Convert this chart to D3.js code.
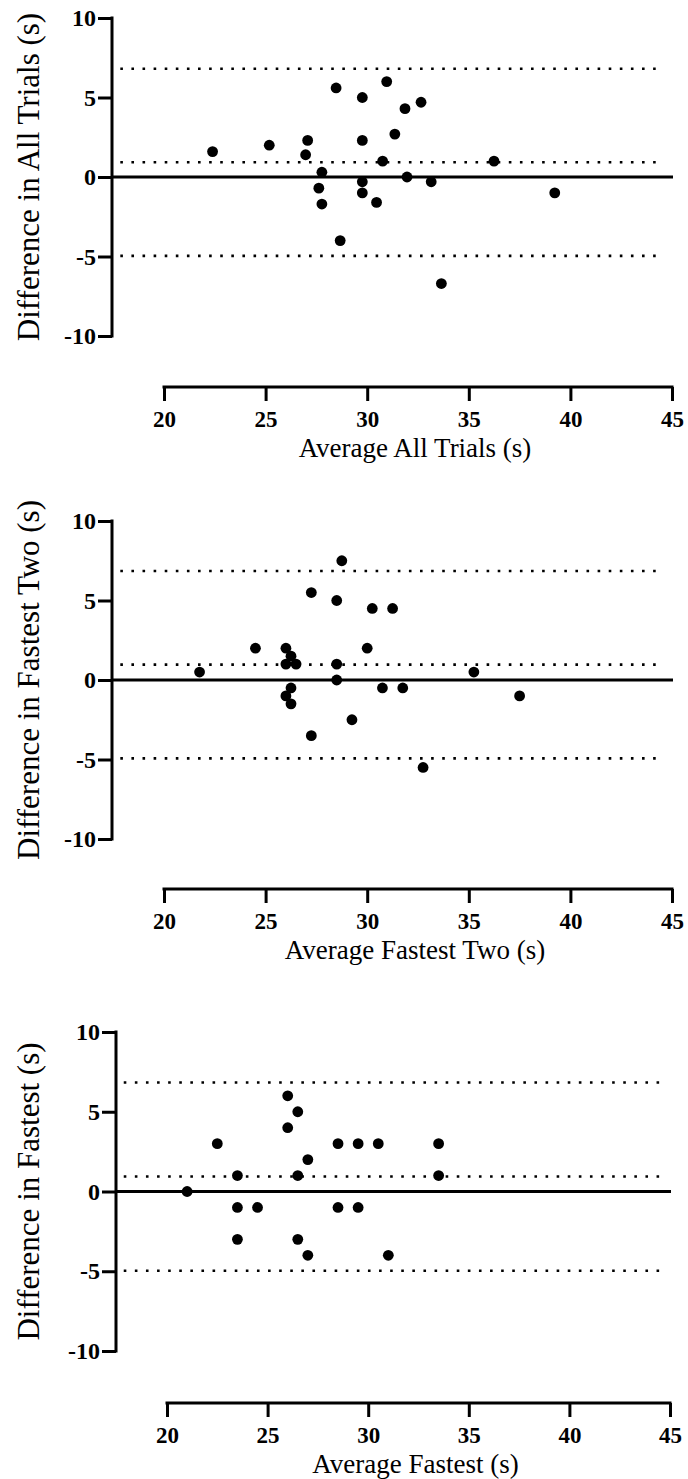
<!DOCTYPE html>
<html>
<head>
<meta charset="utf-8">
<script src="https://cdn.jsdelivr.net/npm/d3@7"></script>
<style>
  html, body { margin: 0; padding: 0; background: #fff; }
  svg { display: block; }
</style>
</head>
<body>
<svg id="chart" width="688" height="1479"></svg>
<script>
// ---------------- DATA ----------------
const xTicks = [20, 25, 30, 35, 40, 45];
const yTicks = [-10, -5, 0, 5, 10];

// Panel 1: All trials
const allTrialsAvg  = [22.39, 25.18, 27.07, 26.97, 28.47, 27.77, 27.62, 27.77, 28.67, 29.76, 29.76, 29.76, 29.76, 30.46, 30.96, 30.76, 31.36, 31.86, 32.65, 31.96, 33.15, 33.65, 36.24, 39.23];
const allTrialsDiff = [1.6, 2.0, 2.3, 1.4, 5.6, 0.3, -0.7, -1.7, -4.0, 5.0, 2.3, -0.3, -1.0, -1.6, 6.0, 1.0, 2.7, 4.3, 4.7, 0.0, -0.3, -6.7, 1.0, -1.0];
const allTrialsLimits = [-4.96, 0.93, 6.81];

// Panel 2: Fastest two
const fastTwoAvg  = [21.75, 24.5, 26.0, 26.25, 26.0, 26.5, 26.25, 26.0, 26.25, 27.25, 27.25, 28.75, 28.5, 28.5, 28.5, 29.25, 30.0, 30.25, 31.25, 30.75, 31.75, 32.75, 35.25, 37.5];
const fastTwoDiff = [0.5, 2.0, 2.0, 1.5, 1.0, 1.0, -0.5, -1.0, -1.5, 5.5, -3.5, 7.5, 5.0, 1.0, 0.0, -2.5, 2.0, 4.5, 4.5, -0.5, -0.5, -5.5, 0.5, -1.0];
const fastTwoLimits = [-4.93, 0.97, 6.86];

// Panel 3: Fastest
const fastestAvg  = [21.0, 22.5, 23.5, 23.5, 23.5, 24.5, 26.0, 26.0, 26.5, 26.5, 26.5, 27.0, 27.0, 28.5, 28.5, 29.5, 29.5, 30.5, 31.0, 33.5, 33.5];
const fastestDiff = [0, 3, 1, -1, -3, -1, 6, 4, 5, 1, -3, 2, -4, 3, -1, 3, -1, 3, -4, 3, 1];
const fastestLimits = [-4.97, 0.94, 6.83];

const xTitles = ["Average All Trials (s)", "Average Fastest Two (s)", "Average Fastest (s)"];
const yTitles = ["Difference in All Trials (s)", "Difference in Fastest Two (s)", "Difference in Fastest (s)"];

// ---------------- LAYOUT ----------------
const FONT = "'Liberation Serif', Tinos, 'Times New Roman', Times, serif";
const panels = [
  { xs: allTrialsAvg, ys: allTrialsDiff, limits: allTrialsLimits, xt: xTitles[0], yt: yTitles[0],
    yTop: 18, yBot: 336, axisX: 112, xAxisY: 387, xr: [164, 672] },
  { xs: fastTwoAvg, ys: fastTwoDiff, limits: fastTwoLimits, xt: xTitles[1], yt: yTitles[1],
    yTop: 521, yBot: 839, axisX: 112, xAxisY: 889, xr: [164, 672] },
  { xs: fastestAvg, ys: fastestDiff, limits: fastestLimits, xt: xTitles[2], yt: yTitles[2],
    yTop: 1032, yBot: 1351, axisX: 116, xAxisY: 1403, xr: [167, 670] }
];

const svg = d3.select("#chart");
const LW = 3;

panels.forEach(p => {
  const g = svg.append("g");
  const x = d3.scaleLinear().domain([20, 45]).range(p.xr);
  const y = d3.scaleLinear().domain([-10, 10]).range([p.yBot, p.yTop]);

  g.selectAll("line.lim").data(p.limits).enter().append("line")
    .attr("x1", x(17.85)).attr("x2", x(44.6))
    .attr("y1", d => y(d)).attr("y2", d => y(d))
    .attr("stroke", "#000").attr("stroke-width", 2.6)
    .attr("stroke-dasharray", "2.6 8.5");

  g.append("line")
    .attr("x1", p.axisX).attr("x2", x(45) + 1)
    .attr("y1", y(0)).attr("y2", y(0))
    .attr("stroke", "#000").attr("stroke-width", LW);

  const yAxis = d3.axisLeft(y).tickValues(yTicks).tickSize(14).tickPadding(2).tickSizeOuter(0);
  const ya = g.append("g").attr("transform", `translate(${p.axisX},0)`).call(yAxis);
  ya.select(".domain").attr("stroke", "#000").attr("stroke-width", LW).attr("d", `M0,${p.yTop - 1.5}V${p.yBot + 1.5}`);
  ya.selectAll(".tick line").attr("stroke", "#000").attr("stroke-width", LW);
  ya.selectAll(".tick text").style("font-family", FONT).style("font-size", "24px").style("font-weight", "bold")
    .attr("fill", "#000").text(d => d < 0 ? "-" + Math.abs(d) : d);

  const xAxis = d3.axisBottom(x).tickValues(xTicks).tickSize(14).tickPadding(10).tickSizeOuter(0);
  const xa = g.append("g").attr("transform", `translate(0,${p.xAxisY})`).call(xAxis);
  xa.select(".domain").attr("stroke", "#000").attr("stroke-width", LW).attr("d", `M${p.xr[0] - 1.5},0H${p.xr[1] + 1.5}`);
  xa.selectAll(".tick line").attr("stroke", "#000").attr("stroke-width", LW);
  xa.selectAll(".tick text").style("font-family", FONT).style("font-size", "23px").style("font-weight", "bold")
    .attr("fill", "#000");

  g.selectAll("circle").data(p.xs.map((v, i) => [v, p.ys[i]])).enter().append("circle")
    .attr("cx", d => x(d[0])).attr("cy", d => y(d[1])).attr("r", 5.4).attr("fill", "#000");

  g.append("text").attr("x", (p.xr[0] + p.xr[1]) / 2 - 3).attr("y", p.xAxisY + 70)
    .attr("text-anchor", "middle").style("font-family", FONT).style("font-size", "27px").text(p.xt);

  const cy = (p.yTop + p.yBot) / 2;
  g.append("text").attr("transform", `translate(39,${cy}) rotate(-90)`)
    .attr("text-anchor", "middle").style("font-family", FONT).style("font-size", "31px").text(p.yt);
});
</script>
</body>
</html>
